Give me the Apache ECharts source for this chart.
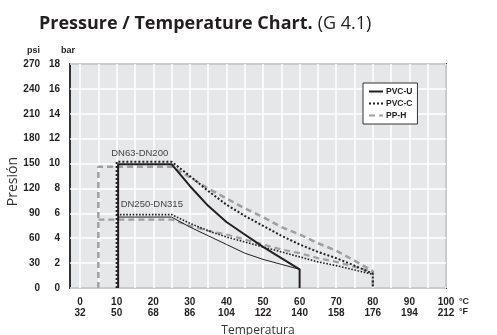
<!DOCTYPE html>
<html>
<head>
<meta charset="utf-8">
<script src="https://cdn.jsdelivr.net/npm/echarts@6/dist/echarts.min.js"></script>
<style>
  html, body { margin: 0; padding: 0; background: #fff; }
  #chart { width: 497px; height: 335px; }
</style>
</head>
<body>
<div id="chart"></div>
<script>
// temperature ticks (°C), °F row is derived for the labels
const celsiusLabels = [0, 10, 20, 30, 40, 50, 60, 70, 80, 90, 100];
const celsiusGrid = [0, 5, 10, 15, 20, 25, 30, 35, 40, 45, 50, 55, 60, 65, 70, 75, 80, 85, 90, 95, 100];

// curve sample temperatures
const tempsPVCU = [25, 30, 35, 40, 45, 50, 55, 60];
const tempsHot = [25, 30, 35, 40, 45, 50, 55, 60, 65, 70, 75, 80];

// pressure (bar)
const pvcU_DN63 = [9.95, 8.2, 6.6, 5.3, 4.3, 3.3, 2.4, 1.5];
const pvcU_DN250 = [5.7, 4.9, 4.2, 3.5, 2.8, 2.3, 1.9, 1.5];
const pvcC_DN63 = [10.15, 9.0, 7.8, 6.7, 5.8, 5.0, 4.2, 3.5, 2.9, 2.4, 1.8, 1.15];
const pvcC_DN250 = [5.9, 5.2, 4.6, 4.1, 3.7, 3.3, 2.9, 2.5, 2.1, 1.8, 1.45, 1.1];
const ppH_DN63 = [9.75, 8.9, 8.0, 7.2, 6.4, 5.7, 4.9, 4.3, 3.6, 3.0, 2.2, 1.35];
const ppH_DN250 = [5.5, 5.0, 4.6, 4.3, 3.9, 3.5, 3.1, 2.8, 2.4, 2.1, 1.7, 1.3];

// lowest working temperature of each material
const startPVCU = 10.4;
const startPVCC = 10;
const startPPH = 5;

// small label anchors [°C, bar]
const labelDN63 = [16.3, 10.85];
const labelDN250 = [19.6, 6.7];

// DN63 outline: up the start line, across, down the curve, back to 0
function outline(t0, temps, vals) {
  const pts = [[t0, 0], [t0, vals[0]]];
  temps.forEach((t, i) => pts.push([t, vals[i]]));
  pts.push([temps[temps.length - 1], 0]);
  return pts;
}
// DN250 branch: from the start line, across and down
function branch(t0, temps, vals) {
  const pts = [[t0, vals[0]]];
  temps.forEach((t, i) => pts.push([t, vals[i]]));
  return pts;
}

const dark = "#231f20";
const grey = "#9d9fa2";

const chart = echarts.init(document.getElementById("chart"));

chart.setOption({
  animation: false,
  title: {
    left: 34, top: 10,
    text: "{b|Pressure / Temperature Chart.} {n|(G 4.1)}",
    textStyle: {
      fontWeight: "normal",
      rich: {
        b: { fontFamily: "Open Sans", fontWeight: "bold", fontSize: 18, color: "#231f20" },
        n: { fontFamily: "Open Sans", fontWeight: "normal", fontSize: 18, color: "#231f20" }
      }
    }
  },
  legend: {
    orient: "vertical", left: 363, top: 83,
    data: ["PVC-U", "PVC-C", "PP-H"],
    backgroundColor: "#fff", borderColor: "#333", borderWidth: 1,
    padding: [4, 5, 4, 5], itemGap: 3, itemWidth: 14, itemHeight: 8,
    itemStyle: { opacity: 0 },
    textStyle: { fontFamily: "Liberation Sans", fontWeight: "bold", fontSize: 8.5, color: "#231f20", padding: [0, 0, 0, -2] }
  },
  grid: {
    left: 70, right: 51, top: 64, bottom: 47, outerBoundsMode: "none",
    show: true, backgroundColor: "#e6e7e8", borderColor: "#333", borderWidth: 2
  },
  xAxis: {
    type: "value", min: -2.75, max: 100,
    name: "Temperatura", nameLocation: "middle", nameGap: 37, nameMoveOverlap: false,
    nameTextStyle: { fontFamily: "Open Sans", fontSize: 12, color: "#333" },
    axisLine: { show: false },
    axisTick: { show: false, customValues: celsiusGrid },
    axisLabel: {
      customValues: celsiusLabels, margin: 9, lineHeight: 10.5,
      fontFamily: "Liberation Sans", fontWeight: "bold", fontSize: 10, color: "#231f20",
      formatter: (v) => v + "\n" + Math.round(v * 1.8 + 32)
    },
    splitLine: { show: true, lineStyle: { color: "#fff", width: 1.5 } }
  },
  yAxis: [
    {
      type: "value", min: 0, max: 18, interval: 2,
      name: "bar", nameLocation: "end", nameGap: 9,
      nameTextStyle: { fontFamily: "Liberation Sans", fontWeight: "bold", fontSize: 9, color: "#231f20", align: "right", padding: [0, 5, 0, 0] },
      axisLine: { show: false }, axisTick: { show: false },
      axisLabel: { margin: 10, fontFamily: "Liberation Sans", fontWeight: "bold", fontSize: 10, color: "#231f20" },
      splitLine: { show: true, lineStyle: { color: "#fff", width: 1.5 } }
    },
    {
      type: "value", position: "left", offset: 0, min: 0, max: 270, interval: 30,
      name: "psi", nameLocation: "end", nameGap: 9,
      nameTextStyle: { fontFamily: "Liberation Sans", fontWeight: "bold", fontSize: 9, color: "#231f20", align: "right", padding: [0, 30, 0, 0] },
      axisLine: { show: false }, axisTick: { show: false },
      axisLabel: { margin: 30, fontFamily: "Liberation Sans", fontWeight: "bold", fontSize: 10, color: "#231f20" },
      splitLine: { show: false }
    }
  ],
  graphic: [
    { type: "text", left: 459, top: 296, style: { text: "°C\n°F", lineHeight: 10.5, font: "bold 9px Liberation Sans", fill: "#231f20" } },
    { type: "text", left: 6, top: 157, rotation: Math.PI / 2, style: { text: "Presión", font: "14px Open Sans", fill: "#333" } }
  ],
  series: [
    {
      name: "PP-H", type: "line", symbol: "none", z: 2,
      data: outline(startPPH, tempsHot, ppH_DN63),
      itemStyle: { color: grey },
      lineStyle: { color: grey, width: 2.5, type: [6, 4] }
    },
    {
      name: "PP-H", type: "line", symbol: "none", z: 2,
      data: branch(startPPH, tempsHot, ppH_DN250),
      itemStyle: { color: grey },
      lineStyle: { color: grey, width: 2.2, type: [6, 4] }
    },
    {
      name: "PVC-C", type: "line", symbol: "none", z: 3,
      data: outline(startPVCC, tempsHot, pvcC_DN63),
      itemStyle: { color: dark },
      lineStyle: { color: dark, width: 2, type: [2, 2] }
    },
    {
      name: "PVC-C", type: "line", symbol: "none", z: 3,
      data: branch(startPVCC, tempsHot, pvcC_DN250),
      itemStyle: { color: dark },
      lineStyle: { color: dark, width: 1.6, type: [1.6, 1.6] }
    },
    {
      name: "PVC-U", type: "line", symbol: "none", z: 4,
      data: outline(startPVCU, tempsPVCU, pvcU_DN63),
      itemStyle: { color: dark },
      lineStyle: { color: dark, width: 2 },
      markPoint: {
        silent: true, symbol: "circle", symbolSize: 0,
        label: { show: true, position: "inside", fontFamily: "Liberation Sans", fontSize: 9.5, color: "#444" },
        data: [
          { coord: labelDN63, label: { formatter: "DN63-DN200" } },
          { coord: labelDN250, label: { formatter: "DN250-DN315" } }
        ]
      }
    },
    {
      name: "PVC-U", type: "line", symbol: "none", z: 4,
      data: branch(startPVCU, tempsPVCU, pvcU_DN250),
      itemStyle: { color: dark },
      lineStyle: { color: dark, width: 1 }
    }
  ]
});
</script>
</body>
</html>
